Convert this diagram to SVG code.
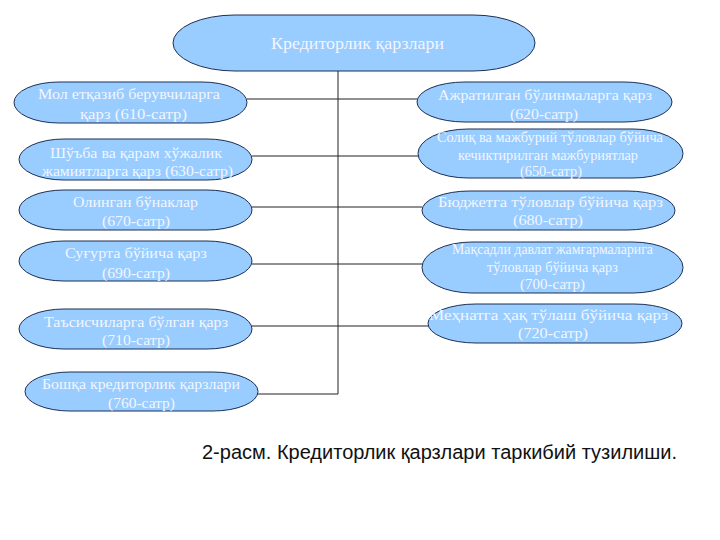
<svg xmlns="http://www.w3.org/2000/svg" width="720" height="540" viewBox="0 0 720 540">
<style>
.n{fill:#99ccff;stroke:#1c2f54;stroke-width:1}
.t{font-family:"Liberation Serif","Times New Roman",serif;font-size:15.5px;fill:#f2f6ff}
.s{font-size:14.5px}
.c{stroke:#222;stroke-width:1;fill:none}
</style>
<rect width="720" height="540" fill="#fff"/>
<g id="connectors">
<path class="c" d="M338 71V394"/>
<path class="c" d="M247 99H417"/>
<path class="c" d="M252 156H418"/>
<path class="c" d="M252 207H422"/>
<path class="c" d="M252 264H422"/>
<path class="c" d="M252 326H428"/>
<path class="c" d="M258 394H338"/>
</g>
<g id="root">
<rect class="n" x="173" y="15" width="362" height="56" rx="62" ry="28"/>
<text class="t" x="271" y="49" textLength="173" lengthAdjust="spacingAndGlyphs" style="font-size:17.5px">Кредиторлик қарзлари</text>
</g>
<g id="n610">
<rect class="n" x="14" y="82" width="233" height="41" rx="45" ry="20.5"/>
<text class="t" x="38" y="99" textLength="182" lengthAdjust="spacingAndGlyphs">Мол етқазиб берувчиларга</text>
<text class="t" x="80" y="119" textLength="107" lengthAdjust="spacingAndGlyphs">қарз  (610-сатр)</text>
</g>
<g id="n630">
<rect class="n" x="19" y="139" width="233" height="41" rx="45" ry="20.5"/>
<text class="t" x="50" y="158" textLength="172" lengthAdjust="spacingAndGlyphs">Шўъба ва қарам хўжалик</text>
<text class="t" x="42" y="176" textLength="191" lengthAdjust="spacingAndGlyphs">жамиятларга қарз (630-сатр)</text>
</g>
<g id="n670">
<rect class="n" x="19" y="190" width="233" height="40" rx="45" ry="20"/>
<text class="t" x="73" y="207" textLength="125" lengthAdjust="spacingAndGlyphs">Олинган бўнаклар</text>
<text class="t" x="102" y="226" textLength="68" lengthAdjust="spacingAndGlyphs">(670-сатр)</text>
</g>
<g id="n690">
<rect class="n" x="19" y="241" width="233" height="40" rx="45" ry="20"/>
<text class="t" x="65" y="258" textLength="142" lengthAdjust="spacingAndGlyphs">Суғурта бўйича қарз</text>
<text class="t" x="102" y="278" textLength="68" lengthAdjust="spacingAndGlyphs">(690-сатр)</text>
</g>
<g id="n710">
<rect class="n" x="19" y="309" width="233" height="40" rx="45" ry="20"/>
<text class="t" x="44" y="327" textLength="184" lengthAdjust="spacingAndGlyphs">Таъсисчиларга бўлган қарз</text>
<text class="t" x="102" y="345" textLength="68" lengthAdjust="spacingAndGlyphs">(710-сатр)</text>
</g>
<g id="n760">
<rect class="n" x="25" y="372" width="233" height="39" rx="45" ry="19.5"/>
<text class="t" x="42" y="389" textLength="198" lengthAdjust="spacingAndGlyphs">Бошқа кредиторлик қарзлари</text>
<text class="t" x="108" y="408" textLength="67" lengthAdjust="spacingAndGlyphs">(760-сатр)</text>
</g>
<g id="n620">
<rect class="n" x="417" y="82" width="255" height="40" rx="48" ry="20"/>
<text class="t" x="438" y="100" textLength="214" lengthAdjust="spacingAndGlyphs">Ажратилган бўлинмаларга қарз</text>
<text class="t" x="510" y="119" textLength="68" lengthAdjust="spacingAndGlyphs">(620-сатр)</text>
</g>
<g id="n650">
<rect class="n" x="418" y="129" width="265" height="49" rx="50" ry="24.5"/>
<text class="t s" x="437" y="142" textLength="226" lengthAdjust="spacingAndGlyphs">Солиқ ва мажбурий тўловлар бўйича</text>
<text class="t s" x="458" y="160" textLength="180" lengthAdjust="spacingAndGlyphs">кечиктирилган мажбуриятлар</text>
<text class="t s" x="520" y="176" textLength="62" lengthAdjust="spacingAndGlyphs">(650-сатр)</text>
</g>
<g id="n680">
<rect class="n" x="422" y="191" width="253" height="39" rx="48" ry="19.5"/>
<text class="t" x="438" y="207" textLength="225" lengthAdjust="spacingAndGlyphs">Бюджетга тўловлар бўйича қарз</text>
<text class="t" x="513" y="225" textLength="70" lengthAdjust="spacingAndGlyphs">(680-сатр)</text>
</g>
<g id="n700">
<rect class="n" x="422" y="242" width="261" height="51" rx="50" ry="25.5"/>
<text class="t s" x="452" y="254" textLength="201" lengthAdjust="spacingAndGlyphs">Мақсадли давлат жамғармаларига</text>
<text class="t s" x="487" y="272" textLength="131" lengthAdjust="spacingAndGlyphs">тўловлар бўйича қарз</text>
<text class="t s" x="520" y="289" textLength="65" lengthAdjust="spacingAndGlyphs">(700-сатр)</text>
</g>
<g id="n720">
<rect class="n" x="428" y="304" width="254" height="39" rx="48" ry="19.5"/>
<text class="t" x="429" y="320" textLength="239" lengthAdjust="spacingAndGlyphs">Меҳнатга ҳақ тўлаш бўйича қарз</text>
<text class="t" x="518" y="338" textLength="70" lengthAdjust="spacingAndGlyphs">(720-сатр)</text>
</g>
<text x="202" y="459" style="font-family:'Liberation Sans',Arial,sans-serif;font-size:20px;fill:#111">2-расм. Кредиторлик қарзлари таркибий тузилиши.</text>
</svg>
